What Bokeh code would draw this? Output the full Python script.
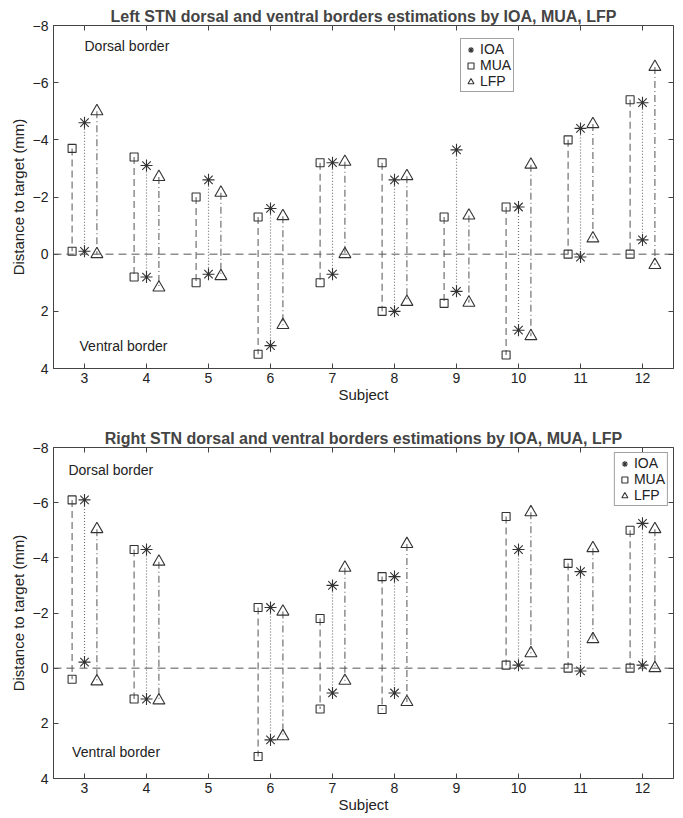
from bokeh.plotting import figure
from bokeh.models import Range1d, FixedTicker, LinearAxis, Span, Legend, LegendItem, Label
from bokeh.layouts import column
from bokeh.embed import file_html
from bokeh.resources import INLINE

subjects = [3, 4, 5, 6, 7, 8, 9, 10, 11, 12]

# Left STN: dorsal and ventral border estimates per method
left_mua_dorsal = [-3.7, -3.4, -2.0, -1.3, -3.2, -3.2, -1.3, -1.65, -4.0, -5.4]
left_mua_ventral = [-0.1, 0.8, 1.0, 3.5, 1.0, 2.0, 1.72, 3.53, 0.0, 0.0]
left_ioa_dorsal = [-4.6, -3.1, -2.6, -1.6, -3.2, -2.6, -3.65, -1.65, -4.4, -5.3]
left_ioa_ventral = [-0.1, 0.8, 0.7, 3.2, 0.7, 2.0, 1.3, 2.66, 0.1, -0.5]
left_lfp_dorsal = [-5.0, -2.7, -2.15, -1.33, -3.23, -2.73, -1.35, -3.13, -4.55, -6.55]
left_lfp_ventral = [0.0, 1.17, 0.77, 2.48, 0.0, 1.67, 1.7, 2.87, -0.55, 0.38]

# Right STN
right_subjects = [3, 4, 6, 7, 8, 10, 11, 12]
right_mua_dorsal = [-6.1, -4.3, -2.2, -1.8, -3.32, -5.5, -3.8, -5.0]
right_mua_ventral = [0.4, 1.12, 3.2, 1.48, 1.5, -0.11, 0.0, 0.0]
right_ioa_dorsal = [-6.1, -4.3, -2.2, -3.0, -3.32, -4.3, -3.5, -5.25]
right_ioa_ventral = [-0.22, 1.12, 2.6, 0.9, 0.9, -0.11, 0.1, -0.11]
right_lfp_dorsal = [-5.04, -3.86, -2.05, -3.64, -4.5, -5.65, -4.35, -5.04]
right_lfp_ventral = [0.48, 1.17, 2.47, 0.46, 1.23, -0.54, -1.05, 0.0]

y_ticks = [-8, -6, -4, -2, 0, 2, 4]
FONT = "Liberation Sans"
LINE_COL = "#707070"
MARK_COL = "#333333"


def make_plot(title, subj, mua, ioa, lfp, frame_h, top_border, bottom_border, legend_loc, dors_y, vent_y, dors_x, vent_x):
    p = figure(width=683, height=top_border + frame_h + bottom_border,
               x_range=Range1d(2.5, 12.5), y_range=Range1d(4, -8),
               output_backend="svg", toolbar_location=None,
               min_border_left=53, min_border_right=10,
               min_border_top=top_border, min_border_bottom=bottom_border)
    p.title.text = title
    p.title.align = "center"
    p.title.text_font = FONT
    p.title.text_font_size = "16px"
    p.title.text_font_style = "bold"
    p.title.offset = 0
    p.title.standoff = 2
    p.grid.visible = False
    p.outline_line_color = "#444444"
    p.background_fill_color = "white"
    p.border_fill_color = "white"

    for ax in (p.xaxis[0], p.yaxis[0]):
        ax.major_tick_in = 5
        ax.major_tick_out = 0
        ax.minor_tick_in = 0
        ax.minor_tick_out = 0
        ax.axis_line_color = "#444444"
        ax.major_tick_line_color = "#444444"
        ax.major_label_text_font = FONT
        ax.major_label_text_font_size = "14px"
        ax.major_label_text_color = "#222222"
        ax.axis_label_text_font = FONT
        ax.axis_label_text_font_size = "15px"
        ax.axis_label_text_font_style = "normal"
        ax.axis_label_text_color = "#222222"
    p.xaxis.ticker = FixedTicker(ticks=subjects)
    p.yaxis.ticker = FixedTicker(ticks=y_ticks)
    p.xaxis.axis_label = "Subject"
    p.yaxis.axis_label = "Distance to target (mm)"
    p.xaxis.major_label_standoff = 4
    p.xaxis.axis_label_standoff = 0
    p.yaxis.major_label_standoff = 5
    p.yaxis.axis_label_standoff = 3

    top = LinearAxis(ticker=FixedTicker(ticks=subjects), major_tick_in=5, major_tick_out=0,
                     minor_tick_in=0, minor_tick_out=0, major_label_text_font_size="2px",
                     major_label_text_color=None,
                     axis_line_color=None, major_tick_line_color="#444444", major_label_standoff=0)
    right = LinearAxis(ticker=FixedTicker(ticks=y_ticks), major_tick_in=5, major_tick_out=0,
                       minor_tick_in=0, minor_tick_out=0, major_label_text_font_size="2px",
                       major_label_text_color=None,
                       axis_line_color=None, major_tick_line_color="#444444", major_label_standoff=0)
    p.add_layout(top, "above")
    p.add_layout(right, "right")

    p.add_layout(Span(location=0, dimension="width", line_color="#555555",
                      line_dash="8 5", line_width=1))

    offsets = {"MUA": -0.2, "IOA": 0.0, "LFP": 0.2}
    dashes = {"MUA": "7 4", "IOA": "1 2", "LFP": "7 3 1 3"}
    markers = {"MUA": "square", "IOA": "asterisk", "LFP": "triangle"}
    sizes = {"MUA": 8, "IOA": 12, "LFP": 12}
    data = {"MUA": mua, "IOA": ioa, "LFP": lfp}
    renderers = {}
    for key in ["MUA", "IOA", "LFP"]:
        d, v = data[key]
        xs = [s + offsets[key] for s in subj]
        p.segment(x0=xs, y0=d, x1=xs, y1=v, line_color=LINE_COL, line_width=1.2,
                  line_dash=dashes[key])
        r = p.scatter(x=xs + xs, y=list(d) + list(v), marker=markers[key], size=sizes[key],
                      fill_color="white", fill_alpha=0.0, line_color=MARK_COL, line_width=1.1)
        renderers[key] = r

    legend = Legend(items=[LegendItem(label="IOA", renderers=[renderers["IOA"]]),
                           LegendItem(label="MUA", renderers=[renderers["MUA"]]),
                           LegendItem(label="LFP", renderers=[renderers["LFP"]])],
                    location=legend_loc)
    legend.label_text_font = FONT
    legend.label_text_font_size = "14px"
    legend.label_text_color = "#222222"
    legend.glyph_width = 15
    legend.glyph_height = 15
    legend.label_height = 14
    legend.label_standoff = 2
    legend.spacing = 0
    legend.padding = 2
    legend.margin = 5
    legend.border_line_color = "#444444"
    legend.background_fill_alpha = 1.0
    p.add_layout(legend, "center")

    p.add_layout(Label(x=dors_x, y=dors_y, text="Dorsal border", text_font=FONT,
                       text_font_size="14px", text_color="#222222",
                       text_baseline="middle", text_align="left"))
    p.add_layout(Label(x=vent_x, y=vent_y, text="Ventral border", text_font=FONT,
                       text_font_size="14px", text_color="#222222",
                       text_baseline="middle", text_align="left"))
    return p


p1 = make_plot("Left STN dorsal and ventral borders estimations by IOA, MUA, LFP",
               subjects,
               (left_mua_dorsal, left_mua_ventral),
               (left_ioa_dorsal, left_ioa_ventral),
               (left_lfp_dorsal, left_lfp_ventral),
               343, 25, 37, (407, 276), -7.3, 3.2, 3.0, 2.92)
p2 = make_plot("Right STN dorsal and ventral borders estimations by IOA, MUA, LFP",
               right_subjects,
               (right_mua_dorsal, right_mua_ventral),
               (right_ioa_dorsal, right_ioa_ventral),
               (right_lfp_dorsal, right_lfp_ventral),
               331, 42, 40, "top_right", -7.2, 3.05, 2.74, 2.8)

layout = column(p1, p2, spacing=0)
open("out.html", "w").write(file_html(layout, INLINE))
